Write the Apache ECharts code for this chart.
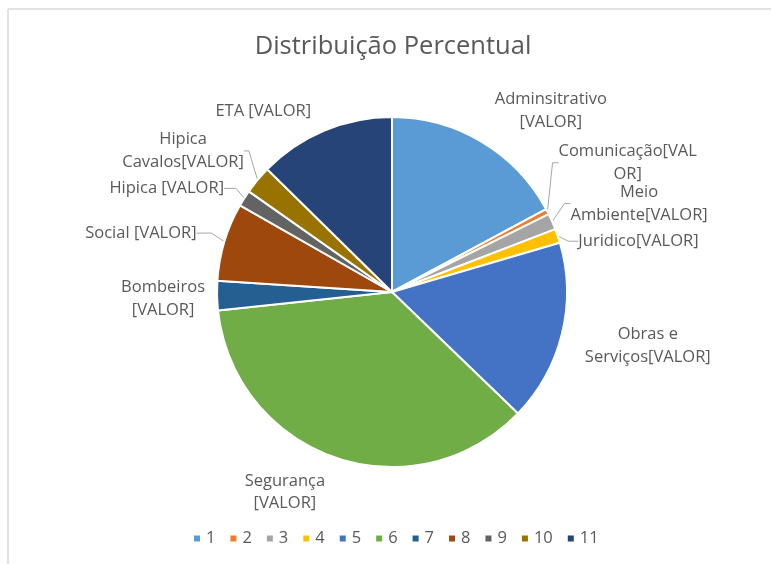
<!DOCTYPE html>
<html>
<head>
<meta charset="utf-8">
<script src="https://cdn.jsdelivr.net/npm/echarts@6/dist/echarts.min.js"></script>
<style>
  html, body { margin: 0; padding: 0; background: #ffffff; }
  #chart { width: 771px; height: 564px; }
</style>
</head>
<body>
<div id="chart"></div>
<script>
// ---- Data ----
const titleText = 'Distribuição Percentual';
const legendNames = ['1', '2', '3', '4', '5', '6', '7', '8', '9', '10', '11'];
const labelTexts = [
  'Adminsitrativo\n[VALOR]',
  'Comunicação[VAL\nOR]',
  'Meio\nAmbiente[VALOR]',
  'Juridico[VALOR]',
  'Obras e\nServiços[VALOR]',
  'Segurança\n[VALOR]',
  'Bombeiros\n[VALOR]',
  'Social [VALOR]',
  'Hipica [VALOR]',
  'Hipica\nCavalos[VALOR]',
  'ETA [VALOR]'
];
const values = [17.1, 0.5, 1.5, 1.3, 16.7, 36.0, 2.7, 7.2, 1.5, 2.6, 12.6];

// ---- Styles ----
const colors = ['#5B9BD5', '#ED7D31', '#A5A5A5', '#FFC000', '#4472C4', '#70AD47',
                '#255E91', '#9E480E', '#636363', '#997300', '#264478'];
const lineShow = [false, true, true, true, false, false, false, true, true, true, false];
const lineLens = [[37, 0], [8, 6], [8, 6], [8, 10], [37, 0], [37, 0], [12, 0], [5, 15], [5, 12], [10, 5], [24, 0]];
const labelShift = [[-11, -2], [-7, -48], [0, -17.6], [-2, 5], [-18, 0], [7, -3], [5, 0], [-3, -10], [1, -10], [4, -25.5], [1, 0]];

const FONT = '"Open Sans", "Noto Sans", sans-serif';
const TXT = '#595959';

const chart = echarts.init(document.getElementById('chart'), null, { renderer: 'canvas' });

const data = values.map((v, i) => ({
  name: legendNames[i],
  value: v,
  itemStyle: { color: colors[i] },
  label: {
    formatter: labelTexts[i].split('\n').map(s => '{c|' + s + '}').join('\n')
  },
  labelLine: { show: lineShow[i], length: lineLens[i][0], length2: lineLens[i][1] }
}));

chart.setOption({
  backgroundColor: '#ffffff',
  animation: false,
  color: colors,
  title: {
    text: titleText,
    left: 388,
    top: 29,
    textAlign: 'center',
    textStyle: { fontFamily: FONT, fontSize: 25.5, fontWeight: 'normal', color: TXT }
  },
  legend: {
    data: legendNames,
    left: 187,
    top: 525,
    itemWidth: 8,
    itemHeight: 8,
    itemGap: 13,
    icon: 'rect',
    textStyle: { fontFamily: FONT, fontSize: 16.5, color: TXT }
  },
  graphic: [
    { type: 'line', shape: { x1: 8, y1: 9, x2: 771, y2: 9 }, style: { stroke: '#d9d9d9', lineWidth: 1.5 }, silent: true },
    { type: 'line', shape: { x1: 8, y1: 9, x2: 8, y2: 564 }, style: { stroke: '#d9d9d9', lineWidth: 1.5 }, silent: true }
  ],
  series: [{
    type: 'pie',
    center: [392, 292],
    radius: [0, 175],
    startAngle: 90,
    clockwise: true,
    avoidLabelOverlap: false,
    itemStyle: { borderColor: '#ffffff', borderWidth: 2 },
    label: {
      show: true,
      position: 'outside',
      distanceToLabelLine: 5,
      fontFamily: FONT,
      fontSize: 16.5,
      color: TXT,
      rich: {
        c: { align: 'center', fontFamily: FONT, fontSize: 16.5, lineHeight: 22.7, color: TXT }
      }
    },
    labelLine: {
      lineStyle: { color: '#a6a6a6', width: 1 },
      maxSurfaceAngle: 180
    },
    labelLayout: function (p) {
      const s = labelShift[p.dataIndex];
      return {
        x: p.labelRect.x + s[0],
        y: p.labelRect.y + s[1],
        align: 'left',
        verticalAlign: 'top'
      };
    },
    emphasis: { disabled: true },
    data: data
  }]
});
</script>
</body>
</html>
